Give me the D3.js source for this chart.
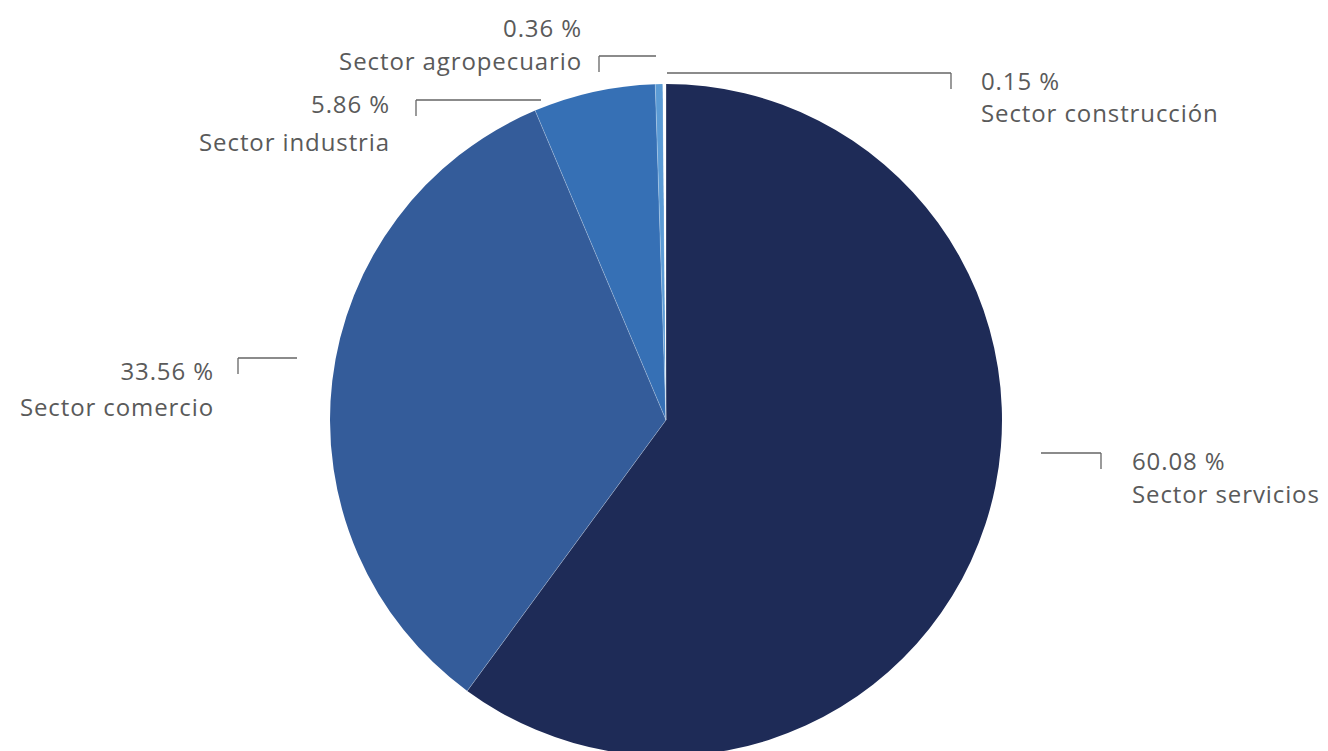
<!DOCTYPE html>
<html>
<head>
<meta charset="utf-8">
<script src="https://cdn.jsdelivr.net/npm/d3@7"></script>
<style>
  html, body { margin: 0; padding: 0; background: #ffffff; }
  svg { display: block; }
  text { font-family: "Open Sans", Lato, sans-serif; fill: #5a5a5a; font-weight: 400; letter-spacing: 0.9px; }
</style>
</head>
<body>
<svg id="chart" width="1328" height="751"></svg>
<script>
// Data
const categories = ["Sector servicios", "Sector comercio", "Sector industria", "Sector agropecuario", "Sector construcción"];
const values = [60.08, 33.56, 5.86, 0.36, 0.15];
const valueLabels = ["60.08 %", "33.56 %", "5.86 %", "0.36 %", "0.15 %"];
const colors = ["#1e2b57", "#345c9a", "#3670b5", "#5b9bd5", "#ffffff"];

// Label layout (annotation placement): line x1,x2,y ; tick x ; text x, anchor, baseline y
const labelLayout = [
  { lx1: 1041, lx2: 1101, ly: 453, tx: 1101, textX: 1132, anchor: "start", vy: 470, cy: 503 },
  { lx1: 238,  lx2: 297,  ly: 358, tx: 238,  textX: 214,  anchor: "end",   vy: 380, cy: 416 },
  { lx1: 416,  lx2: 541,  ly: 100, tx: 416,  textX: 390,  anchor: "end",   vy: 113, cy: 151 },
  { lx1: 599,  lx2: 656,  ly: 56,  tx: 599,  textX: 582,  anchor: "end",   vy: 37,  cy: 70 },
  { lx1: 667,  lx2: 951,  ly: 73,  tx: 951,  textX: 981,  anchor: "start", vy: 90,  cy: 122 }
];

const svg = d3.select("#chart");
const cx = 666, cy = 420, radius = 336;

const data = categories.map((c, i) => ({ cat: c, value: values[i], label: valueLabels[i], color: colors[i], layout: labelLayout[i] }));

const pie = d3.pie().value(d => d.value).sort(null).startAngle(0).endAngle(2 * Math.PI);
const arc = d3.arc().innerRadius(0).outerRadius(radius);

const g = svg.append("g").attr("transform", `translate(${cx},${cy})`);
g.selectAll("path.slice")
  .data(pie(data))
  .join("path")
  .attr("class", "slice")
  .attr("d", arc)
  .attr("fill", d => d.data.color);

// subtle separators between slices
g.selectAll("path.sep")
  .data(pie(data))
  .join("path")
  .attr("class", "sep")
  .attr("d", d => {
    const a = d.startAngle;
    return `M0,0L${radius * Math.sin(a)},${-radius * Math.cos(a)}`;
  })
  .attr("stroke", "rgba(255,255,255,0.35)")
  .attr("stroke-width", 0.8)
  .attr("fill", "none");

// Leader lines
const lines = svg.append("g").attr("fill", "none").attr("stroke", "#666666").attr("stroke-width", 1.3);
data.forEach(d => {
  const L = d.layout;
  lines.append("path")
    .attr("d", `M${L.lx1},${L.ly}H${L.lx2}M${L.tx},${L.ly}V${L.ly + 16}`);
});

// Labels
const labels = svg.append("g");
data.forEach(d => {
  const L = d.layout;
  labels.append("text")
    .attr("x", L.textX).attr("y", L.vy)
    .attr("text-anchor", L.anchor)
    .attr("font-size", 24)
    .text(d.label);
  labels.append("text")
    .attr("x", L.textX).attr("y", L.cy)
    .attr("text-anchor", L.anchor)
    .attr("font-size", 24)
    .text(d.cat);
});
</script>
</body>
</html>
